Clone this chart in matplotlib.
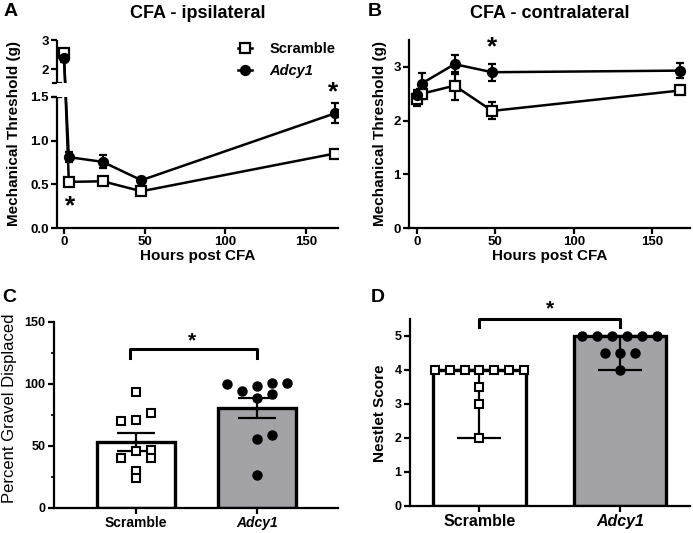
import numpy as np
import matplotlib
matplotlib.use('Agg')
import matplotlib.pyplot as plt
from matplotlib.lines import Line2D

plt.rcParams['font.family'] = ['Liberation Sans', 'DejaVu Sans']
plt.rcParams['font.weight'] = 'bold'
plt.rcParams['axes.linewidth'] = 1.6

# ---------------- data ----------------
hours = [0, 3, 24, 48, 168]
a_scr = [2.55, 0.527, 0.534, 0.42, 0.851]
a_scr_err = [0.10, 0.03, 0.02, 0.02, 0.02]
a_adc = [2.38, 0.81, 0.756, 0.546, 1.31]
a_adc_err = [0.12, 0.06, 0.075, 0.02, 0.115]

b_scr = [2.40, 2.50, 2.65, 2.18, 2.56]
b_scr_err = [0.13, 0.10, 0.26, 0.16, 0.07]
b_adc = [2.47, 2.69, 3.05, 2.90, 2.93]
b_adc_err = [0.10, 0.20, 0.18, 0.16, 0.14]

groups = ['Scramble', 'Adcy1']
c_means = [53.5, 80.5]
c_sem = [7.2, 8.3]
c_scr = [93.8, 70.2, 71.0, 76.3, 46.0, 46.8, 40.0, 40.0, 29.8, 23.9]
c_adc = [100.0, 94.6, 98.6, 100.5, 100.5, 88.4, 91.9, 55.4, 58.9, 26.4]

d_median = [4, 5]
d_min = [2, 4]
d_scr = [4, 4, 4, 4, 4, 4, 4, 3.5, 3, 2]
d_adc = [5, 5, 5, 5, 5, 5, 4.5, 4.5, 4.5, 4]

# point spread (layout only)
c_scr_off = np.array([0, -1, 0, 1, 0, 1, -1, 1, 0, 0]) * 0.124
c_adc_off = np.array([-2, -1, 0, 1, 2, 0, 1, 0, 1, 0]) * 0.124
d_scr_off = np.array([-3, -2, -1, 0, 1, 2, 3, 0, 0, 0]) * 0.105
d_adc_off = np.array([-2.5, -1.5, -0.5, 0.5, 1.5, 2.5, -1, 0, 1, 0]) * 0.107

W, H = 693, 533
fig = plt.figure(figsize=(W / 100, H / 100), dpi=100)


def add_ax(l, t, r, b):
    return fig.add_axes([l / W, 1 - b / H, (r - l) / W, (b - t) / H])


def ftext(x, y, s, **kw):
    fig.text(x / W, 1 - y / H, s, **kw)


def style(ax, labelsize=9.5):
    for s in ['top', 'right']:
        ax.spines[s].set_visible(False)
    ax.tick_params(direction='out', length=4, width=1.6, labelsize=labelsize, pad=2)


# ---------- Panel A (broken axis) ----------
LT, UB = 1.5, 1.55
P_LT, P_UB, P_TOP = 131.25, 145.3, 188.0


def fwd(y):
    y = np.asarray(y, float)
    return np.where(y <= LT, y * (P_LT / LT),
                    np.where(y <= UB, P_LT + (y - LT) * (P_UB - P_LT) / (UB - LT),
                             P_UB + (y - UB) * (P_TOP - P_UB) / (3 - UB)))


def inv(v):
    v = np.asarray(v, float)
    return np.where(v <= P_LT, v * LT / P_LT,
                    np.where(v <= P_UB, LT + (v - P_LT) * (UB - LT) / (P_UB - P_LT),
                             UB + (v - P_UB) * (3 - UB) / (P_TOP - P_UB)))


axA = add_ax(57, 40, 338, 228)
style(axA)
axA.set_yscale('function', functions=(fwd, inv))
axA.set_xlim(-4.34, 170)
axA.set_ylim(0, 3)
axA.spines['left'].set_visible(False)
ytr = axA.get_yaxis_transform()
axA.plot([0, 0], [0, LT], color='k', lw=1.6, transform=ytr, clip_on=False, solid_capstyle='butt')
axA.plot([0, 0], [UB, 3], color='k', lw=1.6, transform=ytr, clip_on=False, solid_capstyle='butt')
for yy in [LT, UB]:
    axA.plot([-0.015, 0.015], [yy, yy], color='k', lw=1.6, transform=ytr, clip_on=False)
axA.set_yticks([0, 0.5, 1.0, 1.5, 2, 3])
axA.set_yticklabels(['0.0', '0.5', '1.0', '1.5', '2', '3'])
axA.set_xticks([0, 50, 100, 150])

kw_s = dict(fmt='-s', color='k', mfc='white', mec='k', ms=7, mew=1.6, lw=1.8,
            elinewidth=1.6, capsize=3, capthick=1.6)
kw_o = dict(fmt='-o', color='k', mfc='k', mec='k', ms=6.5, mew=1.6, lw=1.8,
            elinewidth=1.6, capsize=3, capthick=1.6)
axA.errorbar(hours, a_scr, yerr=a_scr_err, zorder=3, **kw_s)
axA.errorbar(hours, a_adc, yerr=a_adc_err, zorder=3, **kw_o)
axA.axhspan(LT, UB, color='white', zorder=5, lw=0)
axA.text(3.7, 0.25, '*', fontsize=19, ha='center', va='center', zorder=6)
axA.text(166.8, 1.515, '*', fontsize=19, ha='center', va='center', zorder=6, clip_on=False)

hs = Line2D([], [], color='k', marker='s', mfc='white', mec='k', ms=7, mew=1.6, lw=1.8)
ho = Line2D([], [], color='k', marker='o', mfc='k', mec='k', ms=6.5, mew=1.6, lw=1.8)
leg = axA.legend([hs, ho], ['Scramble', 'Adcy1'], loc='upper left', bbox_to_anchor=(0.645, 0.99),
                 frameon=False, fontsize=10.5, handlelength=0.95, handletextpad=1.2,
                 labelspacing=0.55, borderpad=0, borderaxespad=0)
leg.get_texts()[1].set_fontstyle('italic')

# ---------- Panel B ----------
axB = add_ax(409, 40, 690, 228)
style(axB)
axB.set_xlim(-5.1, 174.2)
axB.set_ylim(0, 3.5)
axB.set_yticks([0, 1, 2, 3])
axB.set_xticks([0, 50, 100, 150])
axB.errorbar(hours, b_scr, yerr=b_scr_err, zorder=3, **kw_s)
axB.errorbar(hours, b_adc, yerr=b_adc_err, zorder=3, **kw_o)
axB.text(47.7, 3.37, '*', fontsize=19, ha='center', va='center', clip_on=False)

# ---------- Panel C ----------
axC = add_ax(54, 322, 338, 508)
style(axC, 9)
axC.set_xlim(-0.678, 1.669)
axC.set_ylim(0, 150)
axC.set_yticks([0, 50, 100, 150])
axC.set_yticks([25, 75, 125], minor=True)
axC.tick_params(which='minor', length=2.5, width=1.2)
xpos = np.arange(len(groups))
axC.bar(xpos, c_means, width=0.645, color=['white', '#a3a3a7'], edgecolor='k', linewidth=2.4, zorder=2)
axC.errorbar(xpos, c_means, yerr=c_sem, fmt='none', ecolor='k', elinewidth=1.6,
             capsize=14, capthick=1.6, zorder=3)
axC.plot(xpos[0] + c_scr_off, c_scr, 's', ms=6, mfc='white', mec='k', mew=1.5, zorder=4, clip_on=False)
axC.plot(xpos[1] + c_adc_off, c_adc, 'o', ms=6.5, mfc='k', mec='k', zorder=4, clip_on=False)
axC.set_xticks(xpos)
axC.set_xticklabels(groups, fontsize=10)
axC.get_xticklabels()[1].set_fontstyle('italic')
axC.plot([-0.05, -0.05, 1, 1], [121, 128, 128, 121], color='k', lw=2.2, clip_on=False)
axC.text(0.46, 135, '*', fontsize=15, ha='center', va='center')

# ---------- Panel D ----------
axD = add_ax(410, 319, 690, 506)
style(axD, 9)
axD.set_xlim(-0.495, 1.5)
axD.set_ylim(0, 5.5)
axD.set_yticks([0, 1, 2, 3, 4, 5])
axD.bar(xpos, d_median, width=0.66, color=['white', '#a3a3a7'], edgecolor='k', linewidth=2.4, zorder=2)
lo = np.array(d_median) - np.array(d_min)
axD.errorbar(xpos, d_median, yerr=[lo, np.zeros_like(lo)], fmt='none', ecolor='k', elinewidth=1.6,
             capsize=16, capthick=1.6, zorder=3)
axD.plot(xpos[0] + d_scr_off, d_scr, 's', ms=6, mfc='white', mec='k', mew=1.5, zorder=4, clip_on=False)
axD.plot(xpos[1] + d_adc_off, d_adc, 'o', ms=6.5, mfc='k', mec='k', zorder=4, clip_on=False)
axD.set_xticks(xpos)
axD.set_xticklabels(groups, fontsize=11.5)
axD.get_xticklabels()[1].set_fontstyle('italic')
axD.plot([0, 0, 1, 1], [5.27, 5.49, 5.49, 5.27], color='k', lw=2.2, clip_on=False)
axD.text(0.5, 5.8, '*', fontsize=15, ha='center', va='center', clip_on=False)

# ---------- texts ----------
ftext(197.5, 13, 'CFA - ipsilateral', ha='center', va='center', fontsize=13)
ftext(549.5, 13, 'CFA - contralateral', ha='center', va='center', fontsize=13)
ftext(197.5, 256, 'Hours post CFA', ha='center', va='center', fontsize=11)
ftext(549.5, 256, 'Hours post CFA', ha='center', va='center', fontsize=11)
ftext(14, 134, 'Mechanical Threshold (g)', ha='center', va='center', rotation=90, fontsize=11)
ftext(380, 134, 'Mechanical Threshold (g)', ha='center', va='center', rotation=90, fontsize=11)
ftext(10, 408, 'Percent Gravel Displaced', ha='center', va='center', rotation=90,
      fontsize=12, fontweight='normal')
ftext(380, 413, 'Nestlet Score', ha='center', va='center', rotation=90, fontsize=11)
ftext(11, 12, 'A', ha='center', va='center', fontsize=14)
ftext(375, 12, 'B', ha='center', va='center', fontsize=14)
ftext(9, 297, 'C', ha='center', va='center', fontsize=14)
ftext(378, 297, 'D', ha='center', va='center', fontsize=14)

fig.savefig('out.png', dpi=100)
